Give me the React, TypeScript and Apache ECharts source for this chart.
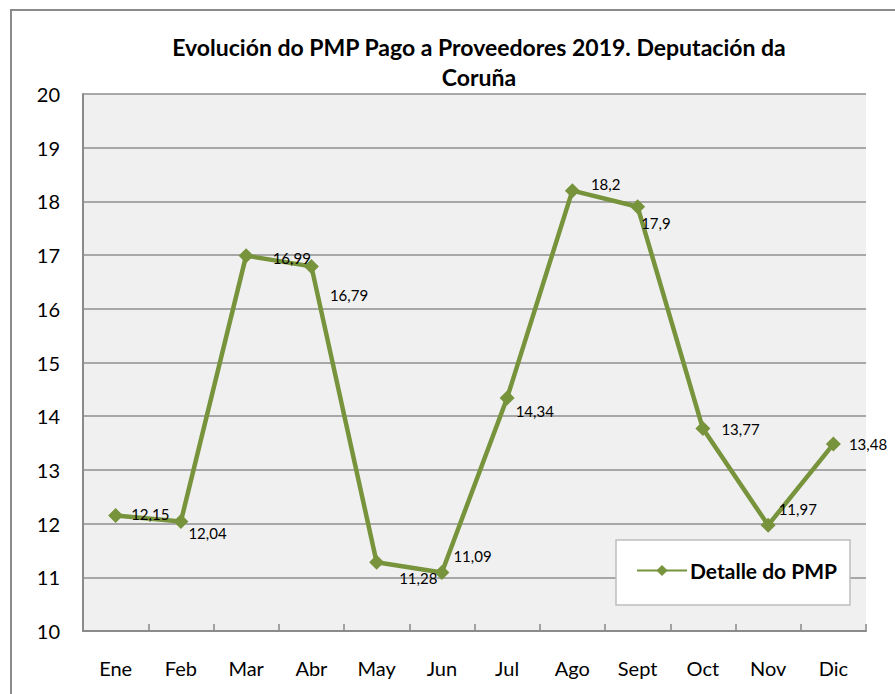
import React, { useEffect, useRef } from "react";
import * as echarts from "echarts";

const months = ["Ene", "Feb", "Mar", "Abr", "May", "Jun", "Jul", "Ago", "Sept", "Oct", "Nov", "Dic"];
const pmpValues = [12.15, 12.04, 16.99, 16.79, 11.28, 11.09, 14.34, 18.2, 17.9, 13.77, 11.97, 13.48];
const labelOffsets = [
  [3, -2], [-5, 12], [14, 2], [6, 29], [10, 16], [-1, -16],
  [-4, 13], [6, -7], [-9, 16], [6, 0], [-2, -16], [3, 0],
];
const seriesName = "Detalle do PMP";
const titleText = "Evolución do PMP Pago a Proveedores 2019. Deputación da\nCoruña";

const FONT = "Lato, 'Open Sans', sans-serif";
const GREEN = "#77933c";

export default function App() {
  const ref = useRef<HTMLDivElement>(null);
  useEffect(() => {
    if (!ref.current) return;
    const chart = echarts.init(ref.current, undefined, { renderer: "svg" });
    chart.setOption({
      animation: false,
      backgroundColor: "#ffffff",
      title: {
        text: titleText,
        left: 479,
        top: 32,
        padding: 0,
        textAlign: "center",
        textStyle: { fontFamily: FONT, fontSize: 23, fontWeight: "bold", color: "#000", lineHeight: 30 },
      },
      graphic: [
        {
          type: "rect",
          z: 0,
          silent: true,
          shape: { x: 11, y: 10, width: 1000, height: 1000 },
          style: { fill: "none", stroke: "#8a8a8a", lineWidth: 2 },
        },
        {
          type: "rect",
          z: 10,
          silent: true,
          shape: { x: 616, y: 540, width: 234, height: 65 },
          style: { fill: "#ffffff", stroke: "#bdbdbd", lineWidth: 1.5 },
        },
      ],
      legend: {
        z: 20,
        left: 636,
        top: 560,
        padding: 0,
        itemWidth: 50,
        itemHeight: 14,
        itemGap: 0,
        data: [seriesName],
        textStyle: { fontFamily: FONT, fontSize: 21, fontWeight: "bold", color: "#000", padding: [0, 0, 0, -2] },
      },
      grid: { left: 83, right: 29, top: 94, bottom: 63, show: true, backgroundColor: "#f0f0f0", borderWidth: 0 },
      xAxis: {
        type: "category",
        data: months,
        boundaryGap: true,
        axisLine: { show: true, lineStyle: { color: "#8a8a8a", width: 2 } },
        axisTick: { show: true, inside: true, length: 7, lineStyle: { color: "#8a8a8a", width: 1.5 } },
        axisLabel: { fontFamily: FONT, fontSize: 20, color: "#000", margin: 27 },
        splitLine: { show: false },
      },
      yAxis: {
        type: "value",
        min: 10,
        max: 20,
        interval: 1,
        axisLine: { show: true, lineStyle: { color: "#8a8a8a", width: 2 } },
        axisTick: { show: false },
        axisLabel: { fontFamily: FONT, fontSize: 20, color: "#000", margin: 23 },
        splitLine: { show: true, lineStyle: { color: "#8f8f8f", width: 1.5 } },
      },
      series: [
        {
          name: seriesName,
          type: "line",
          data: pmpValues.map((v, i) => ({
            value: v,
            label: { offset: labelOffsets[i] },
          })),
          symbol: "diamond",
          symbolSize: 15,
          itemStyle: { color: GREEN },
          lineStyle: { color: GREEN, width: 4.5 },
          label: {
            show: true,
            position: "right",
            distance: 5,
            fontFamily: FONT,
            fontSize: 15,
            color: "#000",
            formatter: (p: any) => String(p.value).replace(".", ","),
          },
        },
      ],
    });
    return () => chart.dispose();
  }, []);
  return (
    <div
      ref={ref}
      style={{ position: "fixed", left: 0, top: 0, width: 895, height: 694 }}
    />
  );
}
